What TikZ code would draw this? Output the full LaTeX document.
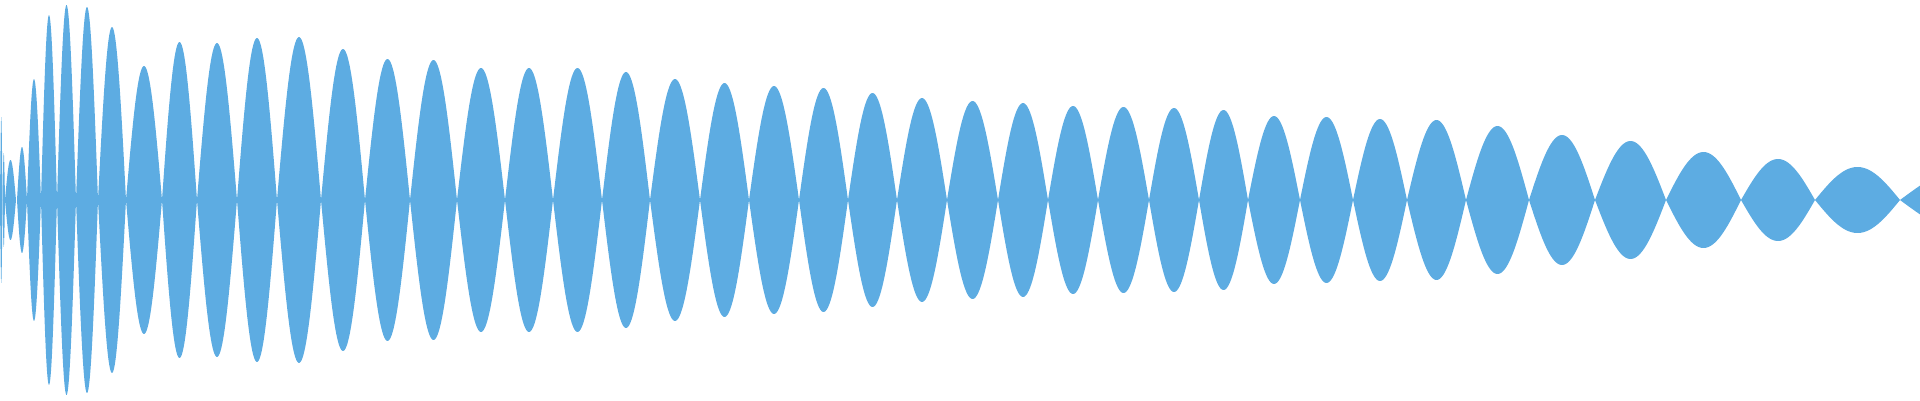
\documentclass[tikz,border=0pt]{standalone}
\definecolor{wave}{RGB}{93,172,226}
\begin{document}
\begin{tikzpicture}[x=1pt,y=1pt,lobe/.style={fill=wave,draw=none}]
\useasboundingbox (0,0) rectangle (1920,400);
\foreach \a/\b/\h in {0/2.5/83,2.5/5/47,5/16/40,17/27/53,27/41/121,41/57/185,57/76/195,76/98/193,98/126/173,126/162/134,162/197/158,197/237/157,237/277/162,277/321/163,321/365/151,365/410/141,
410/457/140,457/505/132,505/553/132,553/602/132,602/650/128,650/700/121,700/749/117,749/799/114,799/848/112,848/897/107,897/947/102,947/998/99,998/1048/97,1048/1098/94,1098/1149/93,1149/1199/92,
1199/1248/90,1248/1300/84,1300/1353/83,1353/1407/81,1407/1466/80,1466/1529/74,1529/1595/65,1595/1666/59,1666/1741/48,1741/1815/41,1815/1900/33}
{
  \fill[lobe] plot[domain=0:180,samples=40,smooth] ({\a+(\b-\a)*\x/180},{200+\h*sin(\x)})
    -- plot[domain=180:0,samples=40,smooth] ({\a+(\b-\a)*\x/180},{200-\h*sin(\x)}) -- cycle;
}
\fill[lobe] plot[domain=0:25,samples=10] ({1900+\x*20/25},{200+34*sin(\x)})
  -- plot[domain=25:0,samples=10] ({1900+\x*20/25},{200-34*sin(\x)}) -- cycle;
\end{tikzpicture}
\end{document}
